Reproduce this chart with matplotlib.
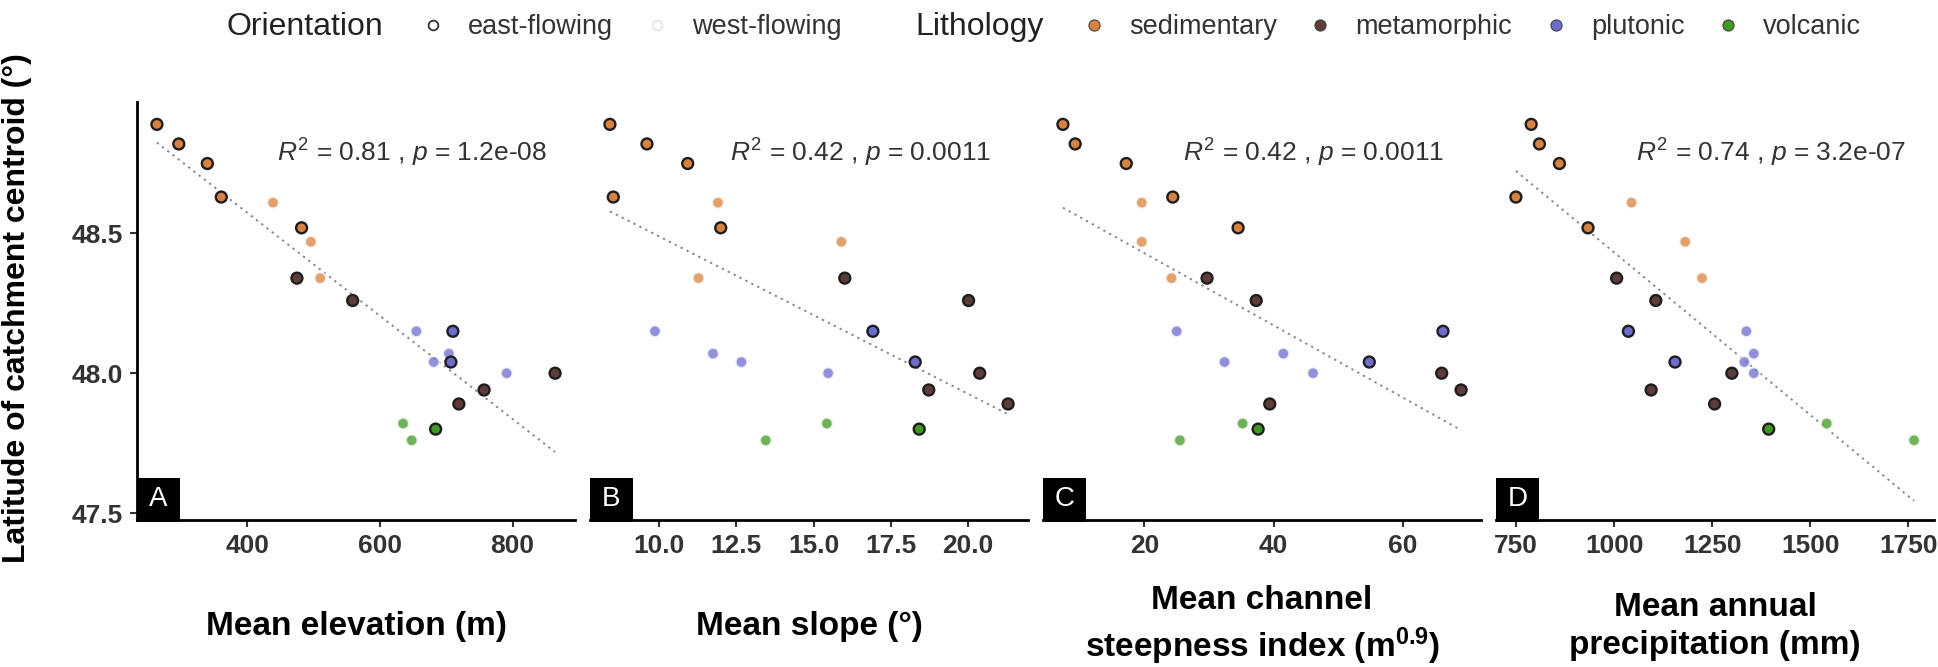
import numpy as np
import matplotlib
matplotlib.use("Agg")
import matplotlib.pyplot as plt
from matplotlib.lines import Line2D
from matplotlib.patches import Rectangle

plt.rcParams['font.family'] = ['Liberation Sans', 'DejaVu Sans']
plt.rcParams['mathtext.fontset'] = 'custom'
plt.rcParams['mathtext.rm'] = 'Liberation Sans'
plt.rcParams['mathtext.it'] = 'Liberation Sans:italic'
plt.rcParams['mathtext.bf'] = 'Liberation Sans:bold'

# one entry per catchment
lithology = ['sedimentary'] * 8 + ['metamorphic'] * 5 + ['plutonic'] * 6 + ['volcanic'] * 3
orientation = ['east', 'east', 'east', 'east', 'west', 'east', 'west', 'west',
               'east', 'east', 'east', 'east', 'east',
               'west', 'east', 'west', 'west', 'east', 'west',
               'west', 'east', 'west']
latitude = [48.89, 48.82, 48.75, 48.63, 48.61, 48.52, 48.47, 48.34,
            48.34, 48.26, 48.00, 47.94, 47.89,
            48.15, 48.15, 48.07, 48.04, 48.04, 48.00,
            47.82, 47.80, 47.76]
elevation = [264, 297, 340, 361, 439, 482, 496, 510,
             475, 559, 864, 757, 719,
             655, 710, 704, 681, 707, 791,
             635, 684, 648]
slope = [8.40, 9.60, 10.92, 8.51, 11.90, 11.99, 15.90, 11.27,
         16.01, 20.02, 20.38, 18.73, 21.30,
         9.86, 16.92, 11.74, 12.66, 18.29, 15.47,
         15.43, 18.42, 13.45]
ksn = [7.4, 9.3, 17.2, 24.4, 19.6, 34.5, 19.6, 24.2,
       29.7, 37.3, 66.0, 69.0, 39.4,
       25.0, 66.2, 41.5, 32.4, 54.8, 46.1,
       35.2, 37.6, 25.5]
precip = [788, 809, 860, 749, 1044, 933, 1181, 1224,
          1006, 1106, 1300, 1094, 1256,
          1337, 1036, 1356, 1332, 1155, 1356,
          1542, 1394, 1765]

panel_letters = ['A', 'B', 'C', 'D']
x_titles = ['Mean elevation (m)', 'Mean slope (°)',
            'Mean channel\nsteepness index (m$^{\\bf 0.9}$)',
            'Mean annual\nprecipitation (mm)']
stats = ['$R^2$ = 0.81 , $p$ = 1.2e-08', '$R^2$ = 0.42 , $p$ = 0.0011',
         '$R^2$ = 0.42 , $p$ = 0.0011', '$R^2$ = 0.74 , $p$ = 3.2e-07']
x_ticks = [[400, 600, 800], [10, 12.5, 15, 17.5, 20], [20, 40, 60],
           [750, 1000, 1250, 1500, 1750]]
x_ticklabels = [['400', '600', '800'], ['10.0', '12.5', '15.0', '17.5', '20.0'],
                ['20', '40', '60'], ['750', '1000', '1250', '1500', '1750']]
y_ticks = [47.5, 48.0, 48.5]
y_ticklabels = ['47.5', '48.0', '48.5']

litho_names = ['sedimentary', 'metamorphic', 'plutonic', 'volcanic']
litho_colors = {'sedimentary': '#DA823D', 'metamorphic': '#5E3C37',
                'plutonic': '#6C6DCF', 'volcanic': '#3E9A1C'}

W, H = 1938, 667
fig = plt.figure(figsize=(W / 100, H / 100), dpi=100)

lat = np.array(latitude)
east = np.array([o == 'east' for o in orientation])
cols = np.array([litho_colors[l] for l in lithology])
lefts = [137, 590, 1043, 1496]

for i, xs in enumerate([elevation, slope, ksn, precip]):
    x = np.array(xs, dtype=float)
    ax = fig.add_axes([lefts[i] / W, (H - 520) / H, 438 / W, 418 / H])

    # linear fit over all catchments
    coef = np.polyfit(x, lat, 1)
    xl = np.array([x.min(), x.max()])
    ax.plot(xl, np.polyval(coef, xl), ls=(0, (1.2, 2.2)), color='#8a8a8a',
            lw=1.4, zorder=1)

    ax.scatter(x[~east], lat[~east], s=70, c=cols[~east], alpha=0.75,
               edgecolors='white', linewidths=1.5, zorder=2)
    ax.scatter(x[east], lat[east], s=62, c=cols[east],
               edgecolors='#1e1e1e', linewidths=1.7, zorder=3)

    ax.set_ylim(47.475, 48.97)
    ax.margins(x=0.05)

    for s in ['top', 'right']:
        ax.spines[s].set_visible(False)
    ax.spines['bottom'].set_linewidth(2.0)
    ax.spines['left'].set_linewidth(2.0)
    ax.set_xticks(x_ticks[i], labels=x_ticklabels[i], fontweight='bold')
    ax.tick_params(axis='both', direction='out', length=5, width=1.5,
                   color='#333333', labelsize=19, labelcolor='#333333', pad=5)
    if i == 0:
        ax.set_yticks(y_ticks, labels=y_ticklabels, fontweight='bold')
    else:
        ax.spines['left'].set_visible(False)
        ax.set_yticks([])

    ax.set_xlabel(x_titles[i], fontsize=24, fontweight='bold',
                  linespacing=1.3)
    ax.xaxis.label.set_va('center')
    ax.xaxis.set_label_coords(0.5, -0.254)

    ax.text(0.32, 0.878, stats[i], transform=ax.transAxes, fontsize=19,
            color='#333333', ha='left', va='center')

    ax.add_patch(Rectangle((0, -0.005), 0.098, 0.105, transform=ax.transAxes,
                           facecolor='black', edgecolor='none',
                           clip_on=False, zorder=5))
    ax.text(0.049, 0.05, panel_letters[i], transform=ax.transAxes,
            fontsize=20, color='white', ha='center', va='center', zorder=6)

fig.text(17 / W, 1 - 308 / H, 'Latitude of catchment centroid (°)',
         rotation=90, ha='center', va='center', fontsize=23,
         fontweight='bold')

# legend row
ly = 1 - 27 / H
fig.text(226 / W, ly, 'Orientation', fontsize=23, color='#222222',
         ha='left', va='center')
fig.text(915 / W, ly, 'Lithology', fontsize=23, color='#222222',
         ha='left', va='center')

h_orient = [Line2D([], [], ls='none', marker='o', ms=7, mfc='white',
                   mec='#333333', mew=1.3, label='east-flowing'),
            Line2D([], [], ls='none', marker='o', ms=7, mfc='white',
                   mec='#e6e6e6', mew=1.3, label='west-flowing')]
h_litho = [Line2D([], [], ls='none', marker='o', ms=8, mfc=litho_colors[n],
                  mec='#444444', mew=0.8, label=n) for n in litho_names]

for handles, x0 in [(h_orient, 422), (h_litho, 1083)]:
    leg = fig.legend(handles=handles, ncol=len(handles), loc='center left',
                     bbox_to_anchor=(x0 / W, ly), frameon=False, fontsize=19.5,
                     handlelength=0.8, handletextpad=0.9, columnspacing=1.2,
                     borderpad=0, borderaxespad=0)
    for t in leg.get_texts():
        t.set_color('#333333')

fig.savefig('out.png', dpi=100)
